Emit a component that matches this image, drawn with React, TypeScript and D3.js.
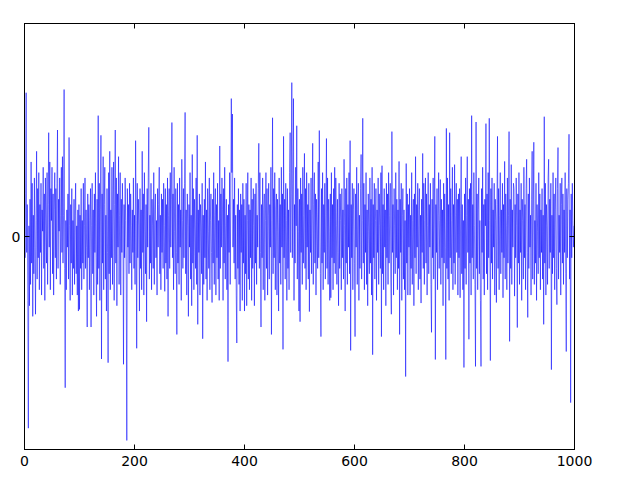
import React from "react";
import * as d3 from "d3";

// series values (index 0..999)
const values: number[] = [
  0.5, -0.4, 0.8, 2.7, -0.3, 0.6, -1.2, -3.6, 0.2, -1.3,
  0.7, -0.9, 1.4, -0.5, 1.0, -1.5, 0.4, -0.7, 1.1, -0.2,
  -1.46, 0.3, 1.6, -0.8, 0.9, -0.4, 1.2, -1.0, 0.6, -0.3,
  1.0, -1.1, 0.5, 0.1, 1.3, -0.6, 0.8, -1.2, 1.1, 0.2,
  -0.5, 1.2, -0.9, 0.6, 1.95, -0.2, 1.4, -1.0, 0.9, 0.3,
  1.3, -0.7, 0.8, -1.1, 0.5, 1.2, -0.4, 0.9, -0.8, 1.0,
  2.0, -0.6, 0.7, 0.1, 1.1, -0.9, 0.4, 1.3, -0.3, 1.5,
  -0.5, 0.4, 2.76, -0.6, -2.84, 0.3, -1.0, 0.5, -0.2, 0.8,
  -0.8, 1.86, 0.2, -1.2, 0.6, -0.5, 0.9, -1.1, 0.3, -0.6,
  0.7, -0.9, 0.4, 1.0, -0.7, 0.2, -1.1, 0.5, -1.4, 0.6,
  -1.37, 0.4, -0.6, 0.9, -1.0, 0.3, -0.5, 1.0, -0.8, 0.2,
  1.1, -0.6, 0.5, -0.2, -1.7, 0.8, -0.4, 0.6, -1.0, 0.3,
  0.9, -1.7, 0.2, 1.0, -0.7, 0.5, -1.1, 0.8, -0.3, 1.2,
  -0.4, -1.5, 0.7, -0.9, 2.27, -0.6, 1.0, -1.2, 0.5, 1.9,
  -2.3, 0.8, -0.5, 1.5, -1.0, 0.6, 1.3, -0.8, 0.4, -1.4,
  0.9, -0.3, -2.37, 1.2, -0.7, 1.6, -1.0, 0.5, -0.4, 1.3,
  -0.9, 0.7, 1.4, -1.2, 0.6, 2.0, -0.5, 1.1, -1.3, 0.8,
  -0.2, 1.5, -0.9, 0.4, 1.2, -1.1, 0.7, -0.3, 1.0, 0.2,
  -2.4, 0.6, -0.4, 1.1, 0.3, -0.8, -3.83, 0.9, -0.2, 0.6,
  -0.7, 1.0, -0.5, 0.8, 0.2, -1.0, 0.5, -0.3, 1.1, -0.6,
  0.4, -0.9, 1.8, 0.3, -2.1, 1.0, -0.4, 0.7, 0.2, -1.4,
  0.9, -0.6, 0.5, -1.0, 1.6, -0.3, 0.8, -1.1, 1.2, 0.1,
  -0.7, 0.6, -1.6, 0.9, -0.2, 1.1, 2.05, -0.8, 0.4, -0.5,
  1.0, -1.0, 0.7, 0.2, -0.6, 1.2, -0.9, 0.5, 0.8, -0.4,
  0.3, -1.1, 0.9, -0.2, 0.6, 1.3, -0.7, 0.4, -1.0, 0.8,
  -0.3, 0.7, -0.6, 1.0, 0.2, -1.03, 0.9, -0.5, 0.6, -0.8,
  1.1, -1.5, 0.4, 0.9, -0.6, 1.2, -0.2, 0.7, 2.14, -0.4,
  0.8, -1.0, 1.3, 0.1, -0.7, 0.9, -0.3, -1.84, 1.0, -0.5,
  0.6, -0.9, 1.1, -0.2, 0.5, -1.2, 1.45, 0.3, -0.6, 0.9,
  -0.4, 1.0, 2.33, -0.7, 0.5, -1.1, 0.8, 0.2, -1.5, 0.6,
  -0.2, 1.2, -0.8, 0.4, -1.3, 1.54, -0.5, 0.9, -1.0, 0.7,
  0.1, -0.6, 1.1, -0.9, 1.9, -1.65, 0.5, -0.3, 0.8, -1.1,
  0.6, 0.2, -0.7, 1.0, -1.92, 0.4, -0.9, 0.7, -0.4, 1.4,
  -0.8, 0.5, -1.2, 0.9, 0.1, -0.6, 1.1, -1.0, 0.3, 0.8,
  -0.3, -1.24, 0.7, -0.5, 1.2, -0.9, 0.4, 0.9, -1.1, 0.6,
  -0.4, 1.0, -0.8, 0.3, -1.2, 1.7, -0.6, 0.8, -0.2, 1.1,
  0.5, -1.2, 0.9, -0.5, 1.3, -0.8, 0.2, 0.7, -1.0, 0.4,
  -2.35, 0.6, -0.3, 1.2, -0.9, 0.5, 2.59, 1.2, 2.3, -0.2,
  0.7, -0.5, 1.1, -0.8, 0.4, -1.1, -2.0, 0.6, -0.6, 0.9,
  -0.9, 0.5, -1.4, 0.8, -0.3, 0.6, -1.2, 1.0, -0.5, 0.7,
  -1.4, 0.4, -0.7, 1.0, -1.3, 0.3, 1.2, -0.8, 0.6, -1.0,
  0.5, -0.4, 1.1, -1.2, 0.7, -0.6, 0.9, 0.2, -1.3, 0.8,
  -0.5, 1.0, -0.9, 0.4, -0.2, 0.9, 1.75, -0.6, 1.2, -0.3,
  -1.7, 0.6, -0.4, 1.1, -1.0, 0.5, 0.8, -1.2, 0.3, 1.2,
  -0.6, 0.9, -1.1, 0.4, 1.0, -0.8, 0.6, -0.2, 1.3, -1.84,
  0.3, 2.23, -0.7, 0.9, -0.4, 1.2, -1.0, 0.5, 0.8, -1.1,
  0.7, 0.1, -1.4, 1.1, -0.5, 0.6, -0.9, 1.3, -0.2, 0.8,
  -2.12, 1.88, -0.4, 0.7, -0.8, 1.0, 0.3, -1.2, 0.9, -0.6,
  0.5, -1.0, 1.2, 1.95, -0.3, 0.8, 2.89, -0.4, 1.0, 2.59,
  -1.2, 0.6, -0.5, 1.3, 0.2, 2.08, -0.8, 0.9, 0.1, -1.4,
  0.7, -1.6, 1.1, -0.3, 0.8, -0.9, 1.3, -0.5, 0.4, 1.56,
  -0.6, 0.9, -1.0, 1.2, -0.2, 0.6, -0.8, 1.0, -1.41, 0.5,
  -0.3, 1.1, -0.7, 0.4, 1.75, -0.9, 0.6, 1.2, -0.5, 0.8,
  -1.1, 0.7, 0.2, -0.6, 1.4, -0.4, 1.99, 0.5, -0.7, -1.88,
  0.9, -0.5, 1.2, -1.0, 0.6, -0.3, 1.0, -0.8, 0.4, 1.84,
  -0.6, 1.1, -0.9, 0.7, 0.1, -1.2, 0.8, -1.15, 1.2, -0.4,
  0.6, -1.0, 0.9, -0.5, 1.3, -0.7, 1.1, 0.2, -0.9, 0.7,
  -0.3, -1.3, 1.0, -0.6, 0.8, 0.3, -1.0, 0.9, -0.4, 0.5,
  -0.8, 1.45, 0.2, -1.4, 0.9, -0.5, 1.1, -0.9, 0.6, -0.2,
  1.2, -0.7, 1.8, -2.14, 0.6, -0.4, 1.0, -1.0, 0.5, 0.9,
  -0.5, -1.88, 0.8, -0.2, 1.3, -0.9, 0.5, 1.0, -1.2, 0.4,
  -0.6, 0.9, 1.54, -0.8, 0.3, 2.22, -0.5, 1.0, -1.0, 0.6,
  -0.3, 1.2, -0.9, 0.5, -1.3, 0.8, 0.1, -0.7, 1.1, -0.5,
  0.7, -1.1, 1.3, -2.22, 0.6, -0.4, 1.0, -0.8, 0.3, 0.9,
  -1.2, 0.5, -0.3, 1.1, -0.9, 0.8, 0.2, -0.6, 1.2, -1.88,
  1.33, -0.7, 0.6, -1.0, 0.9, -0.2, 0.5, -1.3, 1.0, -0.4,
  0.8, -0.9, 1.2, -0.5, 0.4, 1.0, -0.8, -1.46, 1.97, -0.3,
  0.6, -1.1, 0.9, 0.2, -0.7, 1.2, -0.4, 0.7, -1.0, 0.5,
  -0.6, 1.41, -1.84, 0.7, -0.3, 1.0, -1.2, 0.4, 0.9, -0.8,
  0.5, -1.0, 0.3, -2.63, 1.37, -0.5, 0.8, -1.1, 0.6, -0.2,
  0.9, -1.1, 0.4, -0.6, 1.2, -0.9, 0.3, 0.7, -1.3, 0.8,
  -0.4, 1.5, -0.7, 0.6, -0.2, 1.0, -1.0, 0.5, 0.9, -0.8,
  0.4, -1.25, 0.7, -0.3, 1.56, -0.6, 1.0, -0.9, 0.3, 1.1,
  -0.5, 0.8, -1.1, 0.2, 1.2, -0.7, 0.6, -0.2, 1.0, -0.9,
  -1.8, 0.7, -0.4, 1.1, -0.8, 0.5, 1.88, -2.31, 0.6, -0.3,
  0.9, -1.0, 0.4, 1.2, -0.6, 0.3, 1.07, -0.9, 0.7, -0.4,
  0.5, -1.3, 1.0, -0.5, 0.8, -0.2, -2.31, 2.03, -0.6, 1.1,
  -0.8, 0.6, -1.2, 1.95, -0.4, 0.9, -0.7, 0.3, 1.3, -1.0,
  0.6, -0.5, 1.35, -0.9, 0.4, 1.0, -0.3, 0.7, -1.1, 0.8,
  -0.4, 0.9, -1.15, 0.5, 1.5, -0.7, 0.6, -1.0, 0.3, -2.46,
  0.8, -0.6, 1.1, -0.9, 0.4, 1.5, -0.3, 0.7, -1.93, 0.9,
  -0.5, 1.0, -1.1, 2.27, -0.4, 0.6, -0.8, 1.2, 0.2, -0.9,
  -2.44, 2.15, -0.6, 0.8, -1.0, 0.5, 1.1, -0.7, 0.3, -1.2,
  -2.44, 0.9, -0.3, 1.3, -0.8, 0.6, -1.1, 0.7, 0.2, 2.12,
  -0.7, 0.8, -1.0, 1.2, -0.4, 2.22, 0.3, -2.33, 0.9, -0.5,
  1.1, -0.8, 0.5, -0.2, 1.0, -1.1, 0.7, 0.3, -1.24, 0.6,
  1.88, -0.6, 0.9, -1.0, 0.4, 1.2, -0.7, 0.5, -0.3, 1.0,
  -1.15, 0.6, -0.4, 1.41, -0.8, 0.8, 0.2, -1.0, 1.1, -0.5,
  0.4, 1.97, -1.97, 0.7, -0.6, 1.35, -0.9, 0.5, -0.2, 1.0,
  0.9, -1.12, 0.6, -0.4, 1.1, 0.2, -1.71, 0.8, -0.5, 1.2,
  -0.9, 0.5, -0.3, 1.0, -1.2, 0.7, 0.3, -0.8, 1.3, -0.4,
  0.6, -1.0, 0.9, 1.45, -0.3, -1.52, 0.8, -0.6, 1.1, -0.2,
  0.4, -1.1, 0.7, 1.6, -0.8, 0.5, 1.77, -0.9, 0.3, -0.5,
  1.0, -1.2, 0.6, 0.1, -0.7, 1.2, -0.4, 0.8, -1.0, 0.5,
  -0.3, 0.9, -0.8, 0.4, -1.65, 2.25, -0.5, 1.0, -1.1, 0.6,
  0.2, -0.9, 1.1, 1.45, -0.6, 0.7, -0.3, 1.0, -2.5, 0.4,
  -0.7, 1.2, -0.4, 0.8, -1.0, 0.5, 1.1, -0.6, -1.28, 0.9,
  1.67, -0.8, 0.4, -0.3, 1.0, -1.1, 0.6, 1.1, -0.5, 0.8,
  -0.9, 0.5, -0.3, 1.2, -0.7, -2.16, 0.9, -0.4, 0.7, 1.0,
  1.92, -0.8, 0.5, -3.12, 0.8, -0.4, 1.0, 0.3, -0.2, 0.2,
];

const xTicks = [0, 200, 400, 600, 800, 1000];
const yTicks = [0];
const xDomain: [number, number] = [0, 1000];
const yDomain: [number, number] = [-4, 4];

export default function App() {
  const W = 620;
  const H = 490;
  const left = 24.5;
  const right = 574.5;
  const top = 23.5;
  const bottom = 449.5;

  const x = d3.scaleLinear().domain(xDomain).range([left, right]);
  const y = d3.scaleLinear().domain(yDomain).range([bottom, top]);
  const line = d3
    .line<number>()
    .x((_, i) => x(i))
    .y((d) => y(d));

  const font = "'DejaVu Sans', sans-serif";
  const tickLen = 5;

  return (
    <svg
      width={W}
      height={H}
      style={{ position: "absolute", left: 0, top: 0, background: "white" }}
    >
      <defs>
        <clipPath id="plotclip">
          <rect x={left} y={top} width={right - left} height={bottom - top} />
        </clipPath>
      </defs>
      <g clipPath="url(#plotclip)">
        <path
          d={line(values) || ""}
          fill="none"
          stroke="#0000ff"
          strokeOpacity={0.6}
          strokeWidth={0.9}
          strokeLinejoin="round"
        />
      </g>
      <rect
        x={left}
        y={top}
        width={right - left}
        height={bottom - top}
        fill="none"
        stroke="#000"
        strokeWidth={1}
      />
      {xTicks.map((t) => (
        <g key={"x" + t}>
          <line x1={x(t)} x2={x(t)} y1={bottom} y2={bottom - tickLen} stroke="#000" strokeWidth={1} />
          <line x1={x(t)} x2={x(t)} y1={top} y2={top + tickLen} stroke="#000" strokeWidth={1} />
          <text
            x={x(t)}
            y={465.5}
            textAnchor="middle"
            fontFamily={font}
            fontSize={14}
            fill="#000"
          >
            {t}
          </text>
        </g>
      ))}
      {yTicks.map((t) => (
        <g key={"y" + t}>
          <line x1={left} x2={left + tickLen} y1={y(t)} y2={y(t)} stroke="#000" strokeWidth={1} />
          <line x1={right} x2={right - tickLen} y1={y(t)} y2={y(t)} stroke="#000" strokeWidth={1} />
          <text
            x={left - 4}
            y={y(t)}
            dy="0.36em"
            textAnchor="end"
            fontFamily={font}
            fontSize={14}
            fill="#000"
          >
            {t}
          </text>
        </g>
      ))}
    </svg>
  );
}
